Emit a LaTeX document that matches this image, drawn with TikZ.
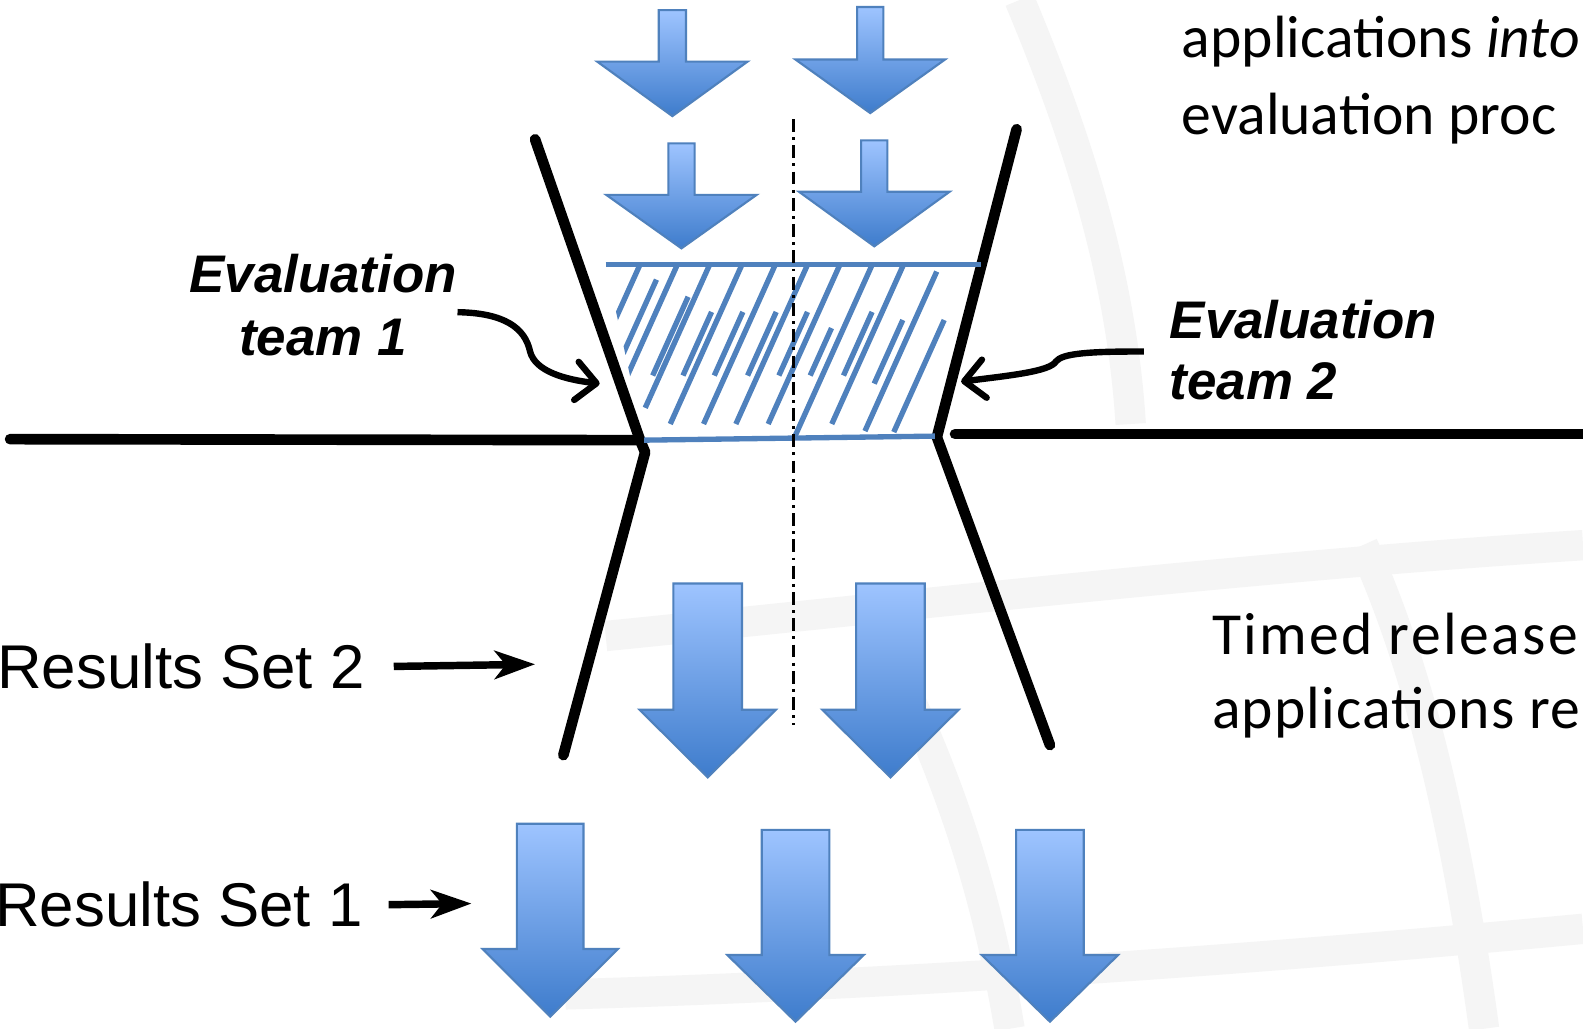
\documentclass[tikz,border=0pt]{standalone}
\usepackage{fontspec}
\newfontfamily\arialfont{Liberation Sans}
\newfontfamily\califont{Carlito}
\usetikzlibrary{arrows.meta}
\definecolor{arrtop}{RGB}{158,196,255}
\definecolor{arrbot}{RGB}{62,124,204}
\definecolor{arredge}{RGB}{79,129,189}
\definecolor{hatchblue}{RGB}{79,129,189}
\definecolor{wmgray}{RGB}{245,245,245}

% block arrow: centre x, top y, stem half width, head half width, head y, tip y
\newcommand{\bluearrow}[6]{%
  \path[blockarrow] (#1-#3,#2) -- (#1+#3,#2) -- (#1+#3,#5) -- (#1+#4,#5)
    -- (#1,#6) -- (#1-#4,#5) -- (#1-#3,#5) -- cycle;}

\begin{document}
\begin{tikzpicture}[x=0.01cm,y=-0.01cm,
    blockarrow/.style={top color=arrtop,bottom color=arrbot,draw=arredge,line width=0.6pt},
    funnel/.style={line width=3pt,line cap=round,line join=round},
    hatch/.style={hatchblue,line width=1.5pt},
    lbl/.style={inner sep=0pt},
    big/.style={lbl,font=\arialfont\fontsize{17.4}{20}\selectfont},
    team/.style={lbl,font=\arialfont\bfseries\itshape\fontsize{14.9}{18}\selectfont},
    note/.style={lbl,anchor=base west,font=\califont\fontsize{16.8}{20}\selectfont},
    ptr/.style={line width=2.1pt,-{Stealth[length=0.4cm,width=0.28cm,inset=0.11cm]}},
    curly/.style={line width=1.8pt,-{Straight Barb[round,length=0.2cm,width=0.38cm]}},
    wm/.style={wmgray,line width=0.3cm}]
  \useasboundingbox (0,0) rectangle (1568,1019);
  \fill[white] (0,0) rectangle (1568,1019);
  % faint logo in the background
  \draw[wm] (1010,0) .. controls (1060,120) and (1110,260) .. (1120,420);
  \draw[wm] (600,630) .. controls (900,600) and (1250,560) .. (1568,540);
  \draw[wm] (560,985) .. controls (900,975) and (1250,950) .. (1568,920);
  \draw[wm] (1350,540) .. controls (1400,650) and (1440,800) .. (1470,1019);
  \draw[wm] (900,690) .. controls (950,800) and (980,900) .. (1000,1019);

  % funnel and the two halves of the line
  \draw[funnel] (530,138) -- (634,436) -- (639,448) -- (558,748);
  \draw[funnel] (1007,128) -- (928,433) -- (1040,738);
  \draw[funnel] (10,435) -- (634,436);
  \draw[funnel] (946,430) -- (1568,430);

  % hatched band
  \begin{scope}
    \clip (600,262) -- (972,262) -- (926,434) -- (638,436) -- cycle;
    \foreach \vt/\ys/\ye in {634/262/324,671/262/388,703/262/404,735/262/420,
        768/262/420,800/262/420,832/262/420,864/262/436,895/262/420,931/269/427,
        657/277/372,696/294/372,726/309/372,757/309/372,790/309/372,
        821/309/372,852/325/372,885/309/372,919/317/380,960/317/428}
      \draw[hatch] ({\vt-0.45*(\ys-262)},\ys) -- ({\vt-0.45*(\ye-262)},\ye);
  \end{scope}
  \draw[hatch] (600,262) -- (972,262);
  \draw[hatch] (638,436) -- (926,432);

  \draw[line width=0.8pt,dash pattern=on 3.6pt off 1.5pt on 0.8pt off 1.5pt] (786,118) -- (786,718);

  % arrows
  \bluearrow{666}{10}{13.5}{74.5}{61}{115}
  \bluearrow{862}{7}{13}{74}{59}{112}
  \bluearrow{675}{142}{13}{74.5}{193}{246}
  \bluearrow{866}{139}{13}{74.5}{190}{244}
  \bluearrow{701}{578}{34}{67.5}{703}{770}
  \bluearrow{882}{578}{34}{67.5}{703}{770}
  \bluearrow{545}{816}{33}{67}{940}{1007}
  \bluearrow{788}{822}{33.5}{67.5}{946}{1012}
  \bluearrow{1040}{822}{33.5}{67.5}{946}{1012}

  % labels
  \node[big,anchor=base east] (rs2) at (362,682) {Results Set 2};
  \node[big,anchor=base east] (rs1) at (360,918) {Results Set 1};
  \coordinate (rs2tip) at (530,658);
  \coordinate (rs1tip) at (467,895);
  \draw[ptr] ([xshift=0.28cm]rs2.east) -- (rs2tip);
  \draw[ptr] ([xshift=0.25cm]rs1.east) -- (rs1tip);

  \node[team,anchor=base] (team1a) at (320,290) {Evaluation};
  \node[team,anchor=base] (team1b) at (320,352) {team 1};
  \node[team,anchor=base west] (team2a) at (1158,335) {Evaluation};
  \node[team,anchor=base west] (team2b) at (1158,396) {team 2};
  \coordinate (t1tip) at (594,380);
  \coordinate (t2tip) at (952,378);
  \draw[curly] ([yshift=-0.18cm]team1a.south east) .. controls (500,310) and (520,325) .. (525,348)
    .. controls (530,368) and (560,376) .. (t1tip);
  \draw[curly] ([xshift=-0.25cm,yshift=-0.12cm]team2a.south west) .. controls (1080,348) and (1052,350) .. (1046,358)
    .. controls (1040,368) and (1000,372) .. (t2tip);

  \node[note] (note1a) at (1170,57) {applications \textit{into}};
  \node[note] (note1b) at (1170,133) {evaluation proc};
  \node[note,font=\califont\fontsize{16.8}{20}\selectfont\addfontfeatures{LetterSpace=4}] (note2a) at (1200,648) {Timed release};
  \node[note,font=\califont\fontsize{16.8}{20}\selectfont\addfontfeatures{LetterSpace=2}] (note2b) at (1200,722) {applications re};
\end{tikzpicture}
\end{document}
